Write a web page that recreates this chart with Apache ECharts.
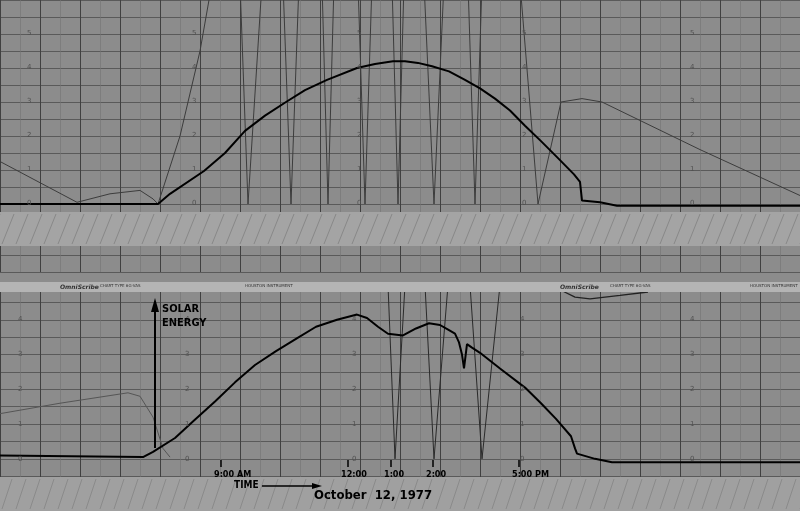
<!DOCTYPE html>
<html><head><meta charset="utf-8">
<script src="https://cdn.jsdelivr.net/npm/echarts@6/dist/echarts.min.js"></script>
<style>html,body{margin:0;padding:0;background:#8c8c8c}#c{width:800px;height:511px}</style>
</head><body><div id="c"></div>
<script>
// Top trace (x = chart position along time strip, y = reading)
const topSolar = [[0,0],[158,0],[170,0.3],[204,0.97],[225,1.5],[245,2.15],[265,2.6],[286,3.0],[305,3.35],[327,3.65],[357,4.0],[375,4.12],[393,4.2],[405,4.2],[418,4.15],[432,4.05],[449,3.9],[465,3.65],[480,3.4],[495,3.1],[510,2.75],[525,2.3],[541,1.85],[558,1.35],[574,0.87],[580,0.65],[582,0.1],[600,0.05],[617,-0.05],[800,-0.05]];
const topGrey = [[0,1.25],[77,0.05],[110,0.3],[140,0.4],[153,0.15],[158,0],[180,2.0],[200,4.5],[212,6.5],[240,6.5],[248,0],[262,6.5],[283,6.5],[291,0],[299,6.5],[322,6.5],[328,0],[334,6.5],[358,6.5],[365,0],[372,6.5],[392,6.5],[398,0],[404,6.5],[424,6.5],[434,0],[444,6.5],[468,6.5],[475,0],[482,6.5],[520,6.5],[538,0],[561,3.0],[582,3.1],[602,3.0],[700,1.6],[800,0.25]];
const botSolar = [[0,0.1],[143,0.05],[153,0.2],[175,0.6],[194,1.1],[215,1.65],[235,2.2],[255,2.7],[276,3.1],[296,3.45],[316,3.8],[337,4.0],[357,4.15],[367,4.05],[378,3.8],[388,3.6],[403,3.55],[416,3.75],[429,3.9],[440,3.85],[449,3.7],[455,3.6],[459,3.35],[462,3.0],[464,2.6],[467,3.3],[472,3.2],[480,3.05],[500,2.6],[525,2.05],[541,1.6],[556,1.15],[571,0.65],[575,0.3],[577,0.15],[595,0.0],[612,-0.1],[800,-0.1]];
const botGrey = [[0,1.3],[60,1.6],[128,1.9],[140,1.8],[153,1.2],[163,0.3],[170,0.05]];
const botSpikes = [[388,5],[395,0],[405,5],[null,null],[425,5],[434,0],[448,5],[null,null],[470,5],[482,0],[500,5]];
const botTopCurve = [[561,4.85],[575,4.65],[590,4.6],[620,4.7],[648,4.8]];
const yTickLabels = ['0','1','2','3','4','5'];
const timeLabels = ['9:00 AM','12:00','1:00','2:00','5:00 PM'];
const timeX = [221,348,391,433,519];

const chart = echarts.init(document.getElementById('c'));
const grid = {show:false};
function xAx(i){return {type:'value',gridIndex:i,min:0,max:800,interval:40,axisLabel:{show:false},axisTick:{show:false},axisLine:{show:false},
  splitLine:{show:true,lineStyle:{color:'#404040',width:1}},minorTick:{show:false,splitNumber:2},minorSplitLine:{show:true,lineStyle:{color:'#737373',width:0.6}}};}
function yAx(i,min,max){return {type:'value',gridIndex:i,min:min,max:max,interval:0.5,axisLabel:{show:false},axisTick:{show:false},axisLine:{show:false},
  splitLine:{show:true,lineStyle:{color:'#555',width:0.9}}};}
const lineS=(data,xi,color,w)=>({type:'line',xAxisIndex:xi,yAxisIndex:xi,data,symbol:'none',lineStyle:{color,width:w},connectNulls:false,clip:true});

const g=[];
g.push({type:'rect',shape:{x:0,y:212,width:800,height:34},style:{fill:'#a4a4a4'},z:10});
for(let x=-40;x<840;x+=14){g.push({type:'line',shape:{x1:x,y1:244,x2:x+12,y2:214},style:{stroke:'#888',lineWidth:1},z:11});}
g.push({type:'rect',shape:{x:0,y:282,width:800,height:10},style:{fill:'#b4b4b4'},z:10});
[['OmniScribe',60],['CHART TYPE 6G-VAS',100],['HOUSTON INSTRUMENT',245],['OmniScribe',560],['CHART TYPE 6G-VAS',610],['HOUSTON INSTRUMENT',750]].forEach(([t,x],k)=>
 g.push({type:'text',x,y:284,style:{text:t,font:(k%3===0?'bold italic 6px':'4px')+' "DejaVu Sans"',fill:'#333'},z:12}));
g.push({type:'rect',shape:{x:0,y:477,width:800,height:34},style:{fill:'#a0a0a0'},z:10});
for(let x=-40;x<840;x+=14){g.push({type:'line',shape:{x1:x,y1:509,x2:x+10,y2:479},style:{stroke:'#8a8a8a',lineWidth:1},z:11});}
[[27,192,357,522,690],[18,185,352,520,690]].forEach((cols,p)=>cols.forEach(cx=>yTickLabels.forEach((t,i)=>{
  const y = p===0 ? 204-i*34 : 460-i*35; if(p===1&&i>4)return;
  g.push({type:'text',x:cx,y:y-4,style:{text:t,font:'7px "DejaVu Sans"',fill:'#505050'},z:5});})));
g.push({type:'line',shape:{x1:155,y1:448,x2:155,y2:302},style:{stroke:'#000',lineWidth:2},z:20});
g.push({type:'polygon',shape:{points:[[151,312],[155,298],[159,312]]},style:{fill:'#000'},z:20});
g.push({type:'text',x:162,y:302,style:{text:'SOLAR\nENERGY',font:'bold 11px "DejaVu Sans Condensed"',fill:'#000',lineHeight:14},z:20});
timeLabels.forEach((t,i)=>{
  g.push({type:'line',shape:{x1:timeX[i],y1:460,x2:timeX[i],y2:467},style:{stroke:'#000',lineWidth:1.5},z:20});
  g.push({type:'text',x:timeX[i]-7,y:470,style:{text:t,font:'bold 9px "DejaVu Sans Condensed"',fill:'#000'},z:20});
});
g.push({type:'text',x:234,y:480,style:{text:'TIME',font:'bold 10px "DejaVu Sans Condensed"',fill:'#000'},z:20});
g.push({type:'line',shape:{x1:262,y1:486,x2:318,y2:486},style:{stroke:'#000',lineWidth:1.5},z:20});
g.push({type:'polygon',shape:{points:[[312,483],[322,486],[312,489]]},style:{fill:'#000'},z:20});
g.push({type:'text',x:314,y:489,style:{text:'October  12, 1977',font:'bold 13px "DejaVu Sans Condensed"',fill:'#000'},z:20});

chart.setOption({
  backgroundColor:'#8c8c8c',animation:false,
  grid:[{left:0,right:0,top:0,height:272,...grid},{left:0,right:0,top:290,height:221,...grid}],
  xAxis:[xAx(0),xAx(1)],
  yAxis:[yAx(0,-2,6),yAx(1,-1.5,4.857)],
  series:[
    lineS(topGrey,0,'#3c3c3c',1),
    lineS(topSolar,0,'#000',2),
    lineS(botGrey,1,'#555',1),
    lineS(botSpikes,1,'#2a2a2a',1),
    lineS(botTopCurve,1,'#222',1.3),
    lineS(botSolar,1,'#000',2)
  ],
  graphic:g
});
</script></body></html>
